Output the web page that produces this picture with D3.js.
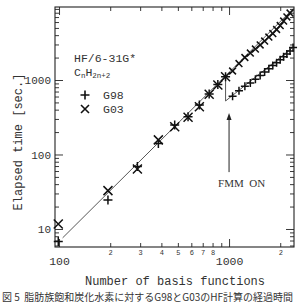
<!DOCTYPE html>
<html>
<head>
<meta charset="utf-8">
<script src="https://cdn.jsdelivr.net/npm/d3@7"></script>
<style>
body{margin:0;background:#fff;}
svg{display:block;}
text{fill:#333;}
</style>
</head>
<body>
<script>
// basis functions for C5..C50 alkanes (step of 5 carbons)
var basisSmall=[99,194,289,384,479,574,669,764,859,954];
var g98Time=[6.8,24.5,69,141,249,320,462,650,870,1107];
var g03Time=[11.7,32.7,64,157,236,316,438,643,857,1107];

// above 1000 functions
var crossBasis=[1049,1144,1239,1334,1429,1524,1619,1714,1809,1904,1999,2094,2189,2284];
var crossTime=[1321,1665,2005,2302,2606,2951,3333,3776,4207,4764,5389,6194,7015,7925];
var plusBasis=[1049,1144,1239,1334,1429,1524,1619,1714,1809,1904,1999,2094,2189,2284,2379];
var plusTime=[604,718,823,912,1025,1146,1280,1418,1561,1706,1866,2046,2226,2460,2724];

var fitLine=[[105,7.6],[2400,9200]];
var fmmLine=[[954,1107],[954,523],[2400,2800]];
var arrowAt=[1000,58,360];

var xMajor=[100,1000];
var xMinor=[200,300,400,500,600,700,800,900,2000];
var xMinorLabels=['2','3','4','5','6','7','8','','2'];
var yMajor=[10,100,1000];
var yMinor=[6,7,8,9,20,30,40,50,60,70,80,90,200,300,400,500,600,700,800,900,2000,3000,4000,5000,6000,7000,8000,9000];

var width=300,height=302;
var pLeft=55,pRight=294,pTop=7,pBottom=247;
var mono='"Liberation Mono", monospace';

var svg=d3.select('body').append('svg')
.attr('width',width)
.attr('height',height);

var x=d3.scaleLog().domain([94.7,2410]).range([pLeft,pRight]);
var y=d3.scaleLog().domain([5.73,9550]).range([pBottom,pTop]);

function styleAxis(g){
    g.select('.domain').remove();
    g.selectAll('line').attr('stroke','#222').attr('stroke-width',0.9);
}

// bottom axis
svg.append('g')
.attr('transform','translate(0,'+pBottom+')')
.call(d3.axisBottom(x).tickValues(xMajor).tickSize(-8).tickPadding(10).tickFormat(d3.format('d')))
.call(styleAxis)
.selectAll('text')
.style('font-family',mono)
.style('font-size','11.5px');

svg.append('g')
.attr('transform','translate(0,'+pBottom+')')
.call(d3.axisBottom(x).tickValues(xMinor).tickSize(-4).tickPadding(3.5).tickFormat((d,i)=>xMinorLabels[i]))
.call(styleAxis)
.selectAll('text')
.style('font-family',mono)
.style('font-size','7px');

// top axis
svg.append('g')
.attr('transform','translate(0,'+pTop+')')
.call(d3.axisTop(x).tickValues(xMajor).tickSize(-8).tickFormat(''))
.call(styleAxis);
svg.append('g')
.attr('transform','translate(0,'+pTop+')')
.call(d3.axisTop(x).tickValues(xMinor).tickSize(-4).tickFormat(''))
.call(styleAxis);

// left axis
svg.append('g')
.attr('transform','translate('+pLeft+',0)')
.call(d3.axisLeft(y).tickValues(yMajor).tickSize(-8).tickPadding(4).tickFormat(d3.format('d')))
.call(styleAxis)
.selectAll('text')
.style('font-family',mono)
.style('font-size','11px');
svg.append('g')
.attr('transform','translate('+pLeft+',0)')
.call(d3.axisLeft(y).tickValues(yMinor).tickSize(-4).tickFormat(''))
.call(styleAxis);

// right axis
svg.append('g')
.attr('transform','translate('+pRight+',0)')
.call(d3.axisRight(y).tickValues(yMajor).tickSize(-8).tickFormat(''))
.call(styleAxis);
svg.append('g')
.attr('transform','translate('+pRight+',0)')
.call(d3.axisRight(y).tickValues(yMinor).tickSize(-4).tickFormat(''))
.call(styleAxis);

// frame
svg.append('rect')
.attr('x',pLeft)
.attr('y',pTop)
.attr('width',pRight-pLeft)
.attr('height',pBottom-pTop)
.style('fill','none')
.style('stroke','#222')
.style('stroke-width',1.1);

var line=d3.line().x(d=>x(d[0])).y(d=>y(d[1]));

svg.append('path')
.attr('d',line(fitLine))
.style('fill','none')
.style('stroke','#444')
.style('stroke-width',0.9);

svg.append('path')
.attr('d',line(fmmLine))
.style('fill','none')
.style('stroke','#444')
.style('stroke-width',0.9);

function plusPath(cx,cy,s){
    return 'M'+(cx-s)+','+cy+'H'+(cx+s)+'M'+cx+','+(cy-s)+'V'+(cy+s);
}
function crossPath(cx,cy,s){
    return 'M'+(cx-s)+','+(cy-s)+'L'+(cx+s)+','+(cy+s)+'M'+(cx-s)+','+(cy+s)+'L'+(cx+s)+','+(cy-s);
}
function drawMarks(xs,ys,shape,s){
    svg.append('g')
    .selectAll('path')
    .data(xs)
    .enter()
    .append('path')
    .attr('d',(d,i)=>shape(x(d),y(ys[i]),s))
    .style('stroke','#111')
    .style('stroke-width',1.5)
    .style('fill','none');
}
drawMarks(basisSmall,g98Time,plusPath,4.5);
drawMarks(basisSmall,g03Time,crossPath,4.5);
drawMarks(crossBasis,crossTime,crossPath,3.4);
drawMarks(plusBasis,plusTime,plusPath,4);

// FMM arrow
svg.append('line')
.attr('x1',x(arrowAt[0]))
.attr('x2',x(arrowAt[0]))
.attr('y1',y(arrowAt[1]))
.attr('y2',y(arrowAt[2])+5)
.style('stroke','#222')
.style('stroke-width',1);
svg.append('path')
.attr('d','M'+x(arrowAt[0])+','+y(arrowAt[2])+'l-2.5,7h5z')
.style('fill','#222');
svg.append('text')
.attr('x',x(arrowAt[0])-11)
.attr('y',y(arrowAt[1])+15)
.style('font-family','"Liberation Serif", serif')
.style('font-size','11px')
.style('white-space','pre')
.text('FMM  ON');

// legend
var legend=svg.append('g').style('font-family',mono).style('font-size','11.5px');
legend.append('text').attr('x',74).attr('y',62).text('HF/6-31G*');
var formula=legend.append('text').attr('x',74).attr('y',76);
formula.append('tspan').text('C');
formula.append('tspan').attr('dy',2).style('font-size','7.5px').text('n');
formula.append('tspan').attr('dy',-2).text('H');
formula.append('tspan').attr('dy',2).style('font-size','7.5px').text('2n+2');
legend.append('path').attr('d',plusPath(85,95,4.5)).style('stroke','#111').style('stroke-width',1.6);
legend.append('path').attr('d',crossPath(85,109,4)).style('stroke','#111').style('stroke-width',1.6);
legend.append('text').attr('x',103).attr('y',99).text('G98');
legend.append('text').attr('x',103).attr('y',113).text('G03');

// axis titles
svg.append('text')
.attr('transform','translate(22,142) rotate(-90)')
.attr('text-anchor','middle')
.style('font-family',mono)
.style('font-size','12px')
.text('Elapsed time [sec.]');

svg.append('text')
.attr('x',175)
.attr('y',284.5)
.attr('text-anchor','middle')
.style('font-family',mono)
.style('font-size','12px')
.text('Number of basis functions');

svg.append('text')
.attr('x',2)
.attr('y',300.5)
.style('font-family','"Noto Sans CJK JP", sans-serif')
.style('font-size','10px')
.style('white-space','pre')
.text('図 5  脂肪族飽和炭化水素に対するG98とG03のHF計算の経過時間');
</script>
</body>
</html>
